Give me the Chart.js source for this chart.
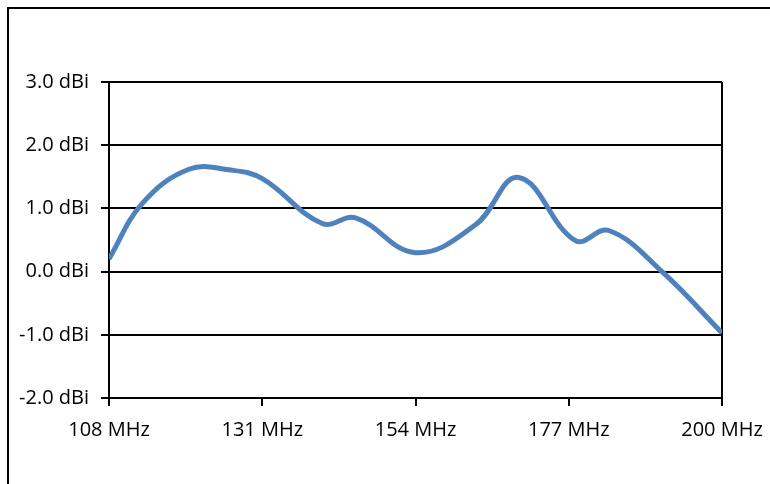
<!DOCTYPE html>
<html>
<head>
<meta charset="utf-8">
<script src="https://cdn.jsdelivr.net/npm/chart.js@4"></script>
<style>
  html, body { margin: 0; padding: 0; background: #fff; }
  #wrap { position: relative; width: 770px; height: 484px; overflow: hidden; }
  #frame { position: absolute; left: 7px; top: 7px; width: 800px; height: 520px;
           border-left: 2px solid #000; border-top: 2px solid #000; }
  #chart { position: absolute; left: 0; top: 0; }
</style>
</head>
<body>
<div id="wrap">
  <div id="frame"></div>
  <canvas id="chart" width="770" height="484"></canvas>
</div>
<script>
// gain curve
const freqs = [108, 113, 120, 126, 131, 140, 145, 154, 163, 169.5, 178, 183, 191, 200];
const gains = [0.20, 1.08, 1.62, 1.61, 1.47, 0.76, 0.85, 0.30, 0.74, 1.49, 0.49, 0.65, 0.00, -0.97];
const xTicks = [108, 131, 154, 177, 200];
const yTicks = [-2, -1, 0, 1, 2, 3];

const points = freqs.map((f, i) => ({ x: f, y: gains[i] }));
const labelFont = { family: "'Open Sans', sans-serif", size: 20 };

const ctx = document.getElementById('chart').getContext('2d');
new Chart(ctx, {
  type: 'line',
  data: {
    datasets: [{
      data: points,
      borderColor: '#4F81BD',
      borderWidth: 5,
      pointRadius: 0,
      tension: 0.4,
      fill: false
    }]
  },
  options: {
    responsive: false,
    animation: false,
    layout: { padding: { left: 10, top: 82, right: 48, bottom: 0 } },
    plugins: { legend: { display: false }, tooltip: { enabled: false } },
    scales: {
      x: {
        type: 'linear',
        min: xTicks[0],
        max: xTicks[xTicks.length - 1],
        afterBuildTicks: s => { s.ticks = xTicks.map(v => ({ value: v })); },
        afterFit: s => { s.height = 86; s.paddingLeft = 0; s.paddingRight = 0; },
        grid: {
          color: c => (c.tick && c.tick.value === 200) ? '#000' : 'rgba(0,0,0,0)',
          tickColor: '#000',
          lineWidth: 2,
          tickLength: 8
        },
        border: { color: '#000', width: 2 },
        ticks: {
          color: '#000',
          font: labelFont,
          padding: 12,
          maxRotation: 0,
          callback: v => v + ' MHz'
        }
      },
      y: {
        min: -2,
        max: 3,
        afterBuildTicks: s => { s.ticks = yTicks.map(v => ({ value: v })); },
        afterFit: s => { s.width = 99; },
        grid: { color: '#000', lineWidth: 2, tickLength: 8 },
        border: { color: '#000', width: 2 },
        ticks: {
          color: '#000',
          font: labelFont,
          padding: 12,
          callback: v => v.toFixed(1) + ' dBi'
        }
      }
    }
  }
});
</script>
</body>
</html>
